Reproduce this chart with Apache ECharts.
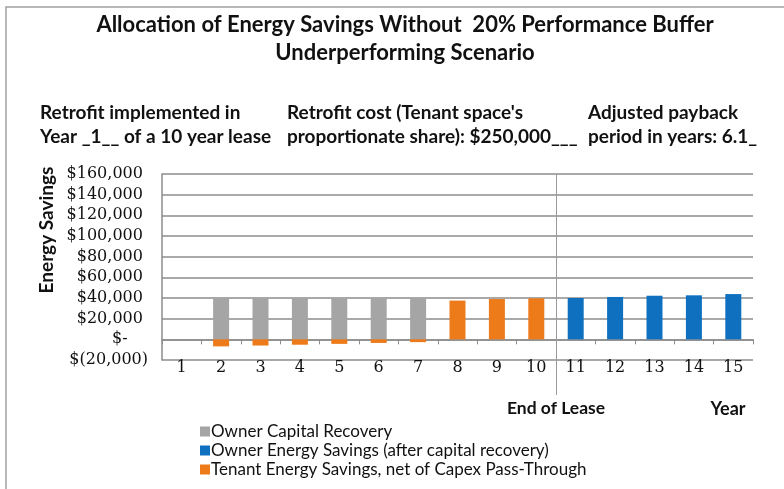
<!DOCTYPE html>
<html lang="en">
<head>
	<meta charset="UTF-8">
	<title>Energy Savings</title>
	<style type="text/css">
		html, body { margin: 0; padding: 0; background: #fff; }
	</style>
	<script src="https://cdn.jsdelivr.net/npm/echarts@6/dist/echarts.min.js"></script>
</head>
<body>
	<div id="main" style="width: 784px;height:489px;"></div>
	<script type="text/javascript">
	// data
	var years = ['1','2','3','4','5','6','7','8','9','10','11','12','13','14','15']
	var ownerCapital = [null, 40000, 40000, 40000, 40000, 40000, 40000, null, null, null, null, null, null, null, null]
	var ownerSavings = [null, null, null, null, null, null, null, null, null, null, 40000, 41000, 42200, 42600, 43800]
	var tenantSavings = [null, -6800, -6000, -5200, -4400, -3500, -2700, 37500, 39000, 39700, null, null, null, null, null]
	var leaseEnd = 10
	var yTicks = { min: -20000, max: 160000, step: 20000 }

	var sans = 'Lato'
	var serif = 'DejaVu Serif'
	var gridColor = '#8c8c8c'

	function money(v){
		if (v == 0) return '$-    '
		var s = Math.abs(v).toString().replace(/\B(?=(\d{3})+(?!\d))/g, ',')
		return v < 0 ? '$(' + s + ')' : '$' + s + ' '
	}

	var headStyle = { fontFamily: sans, fontSize: 19, fontWeight: 'bold', color: '#111', lineHeight: 24 }

	var myChart = echarts.init(document.getElementById('main'));
	option = {
		animation: false,
		title: [
			{
				text: 'Allocation of Energy Savings Without  20% Performance Buffer\nUnderperforming Scenario',
				left: 405, top: 11, textAlign: 'center', padding: 0,
				textStyle: { fontFamily: sans, fontSize: 22, fontWeight: 'bold', color: '#111', lineHeight: 28 }
			},
			{ text: 'Retrofit implemented in\nYear _1__ of a 10 year lease', left: 40, top: 101, padding: 0, textStyle: headStyle },
			{ text: "Retrofit cost (Tenant space's\nproportionate share): $250,000___", left: 287, top: 101, padding: 0, textStyle: headStyle },
			{ text: 'Adjusted payback\nperiod in years: 6.1_', left: 588, top: 101, padding: 0, textStyle: headStyle }
		],
		graphic: [
			{ type: 'rect', shape: { x: 6, y: 7, width: 800, height: 500 }, style: { fill: 'none', stroke: '#a0a0a0', lineWidth: 1.5 }, silent: true },
			{ type: 'text', x: 47, y: 230, rotation: Math.PI / 2,
				style: { text: 'Energy Savings', fontFamily: sans, fontSize: 19, fontWeight: 'bold', fill: '#111', align: 'center', verticalAlign: 'middle' } },
			{ type: 'text', x: 728, y: 409,
				style: { text: 'Year', fontFamily: sans, fontSize: 18, fontWeight: 'bold', fill: '#111', align: 'center', verticalAlign: 'middle' } }
		],
		legend: {
			orient: 'vertical',
			left: 200, top: 423, padding: 0,
			itemWidth: 10, itemHeight: 10, itemGap: 2,
			icon: 'rect',
			data: ['Owner Capital Recovery', 'Owner Energy Savings (after capital recovery)', 'Tenant Energy Savings, net of Capex Pass-Through'],
			textStyle: { fontFamily: sans, fontSize: 17, color: '#111', padding: [0, 0, 0, -4] }
		},
		grid: [
			{ left: 162, right: 31, top: 174, bottom: 129 },
			{ left: 162, right: 31, top: 174, bottom: 94 }
		],
		xAxis: [
			{
				type: 'category', data: years, gridIndex: 0,
				axisLine: { onZero: true, lineStyle: { color: gridColor, width: 1.5 } },
				axisTick: { show: true, length: 5, lineStyle: { color: gridColor } },
				axisLabel: { show: false }
			},
			{
				type: 'category', data: years, gridIndex: 0, position: 'bottom',
				axisLine: { show: false, onZero: false },
				axisTick: { show: false },
				axisLabel: { fontFamily: serif, fontSize: 16, color: '#111', margin: 0 }
			},
			{ type: 'value', gridIndex: 1, min: 0.5, max: years.length + 0.5, show: false }
		],
		yAxis: [
			{
				type: 'value', gridIndex: 0,
				min: yTicks.min, max: yTicks.max, interval: yTicks.step,
				axisLine: { show: true, lineStyle: { color: gridColor, width: 1.5 } },
				axisTick: { show: false },
				splitLine: { lineStyle: { color: gridColor, width: 1.5 } },
				axisLabel: { fontFamily: serif, fontSize: 16, color: '#111', margin: 14, formatter: money }
			},
			{ type: 'value', gridIndex: 1, min: 0, max: 1, show: false }
		],
		series: [
			{
				name: 'Owner Capital Recovery', type: 'bar', stack: 'a', barWidth: 16,
				itemStyle: { color: '#a5a5a5' }, data: ownerCapital
			},
			{
				name: 'Owner Energy Savings (after capital recovery)', type: 'bar', stack: 'a', barWidth: 16,
				itemStyle: { color: '#0f70c0' }, data: ownerSavings
			},
			{
				name: 'Tenant Energy Savings, net of Capex Pass-Through', type: 'bar', stack: 'a', barWidth: 16,
				itemStyle: { color: '#ee7b1a' }, data: tenantSavings
			},
			{
				type: 'line', xAxisIndex: 2, yAxisIndex: 1, data: [], silent: true,
				markLine: {
					silent: true, symbol: 'none', animation: false,
					lineStyle: { color: '#999', width: 1, type: 'solid' },
					label: { show: true, position: 'start', distance: 4, formatter: 'End of Lease',
						fontFamily: sans, fontSize: 17.5, fontWeight: 'bold', color: '#111' },
					data: [{ xAxis: leaseEnd + 0.5 }]
				}
			}
		]
	};
	myChart.setOption(option);
	</script>
</body>
</html>
